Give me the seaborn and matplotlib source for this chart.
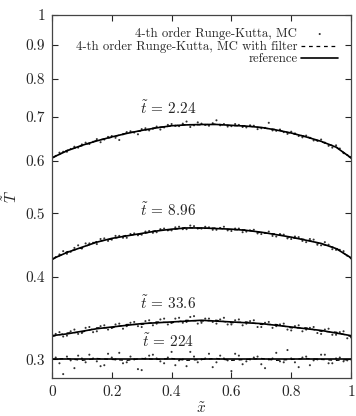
import numpy as np
import matplotlib
matplotlib.use("Agg")
import matplotlib.pyplot as plt
import pandas as pd
import seaborn as sns

# reference solution, x step 0.05
x_ref = [0.0, 0.05, 0.1, 0.15, 0.2, 0.25, 0.3, 0.35, 0.4, 0.45, 0.5,
         0.55, 0.6, 0.65, 0.7, 0.75, 0.8, 0.85, 0.9, 0.95, 1.0]
ref_224 = [0.607, 0.622, 0.634, 0.644, 0.653, 0.661, 0.668, 0.674, 0.679, 0.681, 0.682,
           0.682, 0.680, 0.678, 0.675, 0.669, 0.662, 0.653, 0.643, 0.630, 0.607]
ref_896 = [0.426, 0.436, 0.444, 0.452, 0.458, 0.462, 0.466, 0.470, 0.473, 0.475, 0.475,
           0.474, 0.473, 0.471, 0.468, 0.464, 0.460, 0.455, 0.450, 0.442, 0.428]
ref_336 = [0.326, 0.328, 0.331, 0.334, 0.336, 0.338, 0.340, 0.341, 0.342, 0.343, 0.344,
           0.343, 0.342, 0.341, 0.340, 0.338, 0.336, 0.334, 0.332, 0.329, 0.326]
ref_2240 = [0.300] * 21

# MC with filter
filt_224 = [0.606, 0.623, 0.633, 0.645, 0.652, 0.662, 0.667, 0.675, 0.678, 0.682, 0.681,
            0.683, 0.679, 0.679, 0.674, 0.670, 0.661, 0.654, 0.642, 0.631, 0.606]
filt_896 = [0.425, 0.437, 0.443, 0.453, 0.457, 0.463, 0.465, 0.471, 0.472, 0.476, 0.474,
            0.475, 0.472, 0.472, 0.467, 0.465, 0.459, 0.456, 0.449, 0.443, 0.427]
filt_336 = [0.325, 0.329, 0.330, 0.335, 0.335, 0.339, 0.339, 0.342, 0.341, 0.344, 0.343,
            0.344, 0.341, 0.342, 0.339, 0.339, 0.335, 0.335, 0.331, 0.330, 0.325]
filt_2240 = [0.300, 0.301, 0.299, 0.301, 0.300, 0.299, 0.301, 0.300, 0.301, 0.299, 0.300,
             0.301, 0.299, 0.300, 0.301, 0.299, 0.300, 0.301, 0.300, 0.299, 0.300]

# MC points
x_a = [0.0, 0.025, 0.05, 0.075, 0.1, 0.125, 0.15, 0.175, 0.2, 0.225, 0.25, 0.275, 0.3,
       0.325, 0.35, 0.375, 0.4, 0.425, 0.45, 0.475, 0.5, 0.525, 0.55, 0.575, 0.6, 0.625,
       0.65, 0.675, 0.7, 0.725, 0.75, 0.775, 0.8, 0.825, 0.85, 0.875, 0.9, 0.925, 0.95,
       0.975, 1.0]
x_b = [0.0125, 0.0375, 0.0625, 0.0875, 0.1125, 0.1375, 0.1625, 0.1875, 0.2125, 0.2375,
       0.2625, 0.2875, 0.3125, 0.3375, 0.3625, 0.3875, 0.4125, 0.4375, 0.4625, 0.4875,
       0.5125, 0.5375, 0.5625, 0.5875, 0.6125, 0.6375, 0.6625, 0.6875, 0.7125, 0.7375,
       0.7625, 0.7875, 0.8125, 0.8375, 0.8625, 0.8875, 0.9125, 0.9375, 0.9625, 0.9875]

mc_224_a = [0.605, 0.618, 0.620, 0.631, 0.636, 0.637, 0.648, 0.647, 0.655, 0.646, 0.664,
            0.663, 0.671, 0.668, 0.677, 0.675, 0.683, 0.678, 0.689, 0.680, 0.684, 0.679,
            0.692, 0.683, 0.678, 0.681, 0.675, 0.679, 0.673, 0.686, 0.667, 0.664, 0.665,
            0.655, 0.656, 0.645, 0.647, 0.633, 0.634, 0.617, 0.609]
mc_224_b = [0.611, 0.620, 0.626, 0.629, 0.640, 0.642, 0.641, 0.653, 0.651, 0.659, 0.666,
            0.659, 0.673, 0.672, 0.670, 0.681, 0.679, 0.684, 0.676, 0.687, 0.681, 0.685,
            0.680, 0.677, 0.683, 0.676, 0.680, 0.671, 0.674, 0.668, 0.670, 0.660, 0.661,
            0.652, 0.651, 0.644, 0.640, 0.629, 0.627, 0.613]

mc_896_a = [0.424, 0.433, 0.434, 0.443, 0.442, 0.450, 0.449, 0.458, 0.456, 0.462, 0.459,
            0.466, 0.464, 0.470, 0.468, 0.474, 0.471, 0.477, 0.473, 0.478, 0.474, 0.476,
            0.472, 0.477, 0.470, 0.474, 0.469, 0.472, 0.465, 0.469, 0.461, 0.464, 0.457,
            0.460, 0.452, 0.456, 0.447, 0.448, 0.440, 0.438, 0.427]
mc_896_b = [0.429, 0.438, 0.437, 0.447, 0.450, 0.451, 0.457, 0.454, 0.462, 0.459, 0.465,
            0.463, 0.469, 0.467, 0.473, 0.471, 0.476, 0.473, 0.479, 0.474, 0.477, 0.472,
            0.475, 0.471, 0.474, 0.468, 0.471, 0.466, 0.467, 0.462, 0.465, 0.458, 0.461,
            0.454, 0.457, 0.448, 0.452, 0.441, 0.440, 0.431]

mc_336_a = [0.323, 0.330, 0.326, 0.333, 0.329, 0.336, 0.331, 0.338, 0.335, 0.340, 0.337,
            0.342, 0.336, 0.344, 0.340, 0.346, 0.341, 0.347, 0.342, 0.349, 0.341, 0.346,
            0.340, 0.347, 0.339, 0.345, 0.340, 0.344, 0.336, 0.342, 0.337, 0.340, 0.332,
            0.338, 0.333, 0.336, 0.328, 0.334, 0.327, 0.331, 0.324]
mc_336_b = [0.328, 0.325, 0.331, 0.328, 0.335, 0.330, 0.337, 0.333, 0.339, 0.334, 0.341,
            0.337, 0.343, 0.338, 0.345, 0.339, 0.346, 0.341, 0.348, 0.340, 0.346, 0.342,
            0.345, 0.339, 0.344, 0.338, 0.343, 0.336, 0.341, 0.335, 0.339, 0.333, 0.337,
            0.331, 0.335, 0.329, 0.333, 0.327, 0.330, 0.323]

mc_2240_a = [0.300, 0.296, 0.303, 0.291, 0.301, 0.305, 0.298, 0.294, 0.302, 0.307, 0.297,
             0.300, 0.289, 0.304, 0.301, 0.296, 0.308, 0.299, 0.293, 0.303, 0.300, 0.306,
             0.297, 0.301, 0.288, 0.304, 0.298, 0.302, 0.295, 0.300, 0.307, 0.297, 0.301,
             0.292, 0.303, 0.299, 0.305, 0.296, 0.301, 0.298, 0.300]
mc_2240_b = [0.302, 0.285, 0.299, 0.304, 0.297, 0.301, 0.293, 0.306, 0.300, 0.296, 0.303,
             0.290, 0.301, 0.305, 0.298, 0.302, 0.294, 0.300, 0.308, 0.297, 0.301, 0.292,
             0.304, 0.299, 0.306, 0.295, 0.300, 0.303, 0.291, 0.301, 0.298, 0.310, 0.297,
             0.302, 0.294, 0.300, 0.305, 0.296, 0.302, 0.299]

labels = ["$\\tilde{t}$ = 2.24", "$\\tilde{t}$ = 8.96", "$\\tilde{t}$ = 33.6", "$\\tilde{t}$ = 224"]
label_x = [0.295, 0.295, 0.295, 0.30]
label_y = [0.722, 0.505, 0.365, 0.320]

sns.set_style("ticks")
plt.rcParams["font.family"] = ["cmr10", "DejaVu Serif"]
plt.rcParams["mathtext.fontset"] = "cm"
plt.rcParams["axes.formatter.use_mathtext"] = True
plt.rcParams["axes.unicode_minus"] = False

fig = plt.figure(figsize=(3.56, 4.16), dpi=100)
ax = fig.add_axes([0.146, 0.091, 0.840, 0.873])

mc = pd.DataFrame({
    "x": x_a * 4 + x_b * 4,
    "T": mc_224_a + mc_896_a + mc_336_a + mc_2240_a + mc_224_b + mc_896_b + mc_336_b + mc_2240_b,
})
sns.scatterplot(data=mc, x="x", y="T", ax=ax, s=2.2, color="#333333", edgecolor="none",
                label="4-th order Runge-Kutta, MC")

first = True
for r, f in [(ref_224, filt_224), (ref_896, filt_896), (ref_336, filt_336), (ref_2240, filt_2240)]:
    sns.lineplot(x=x_ref, y=f, ax=ax, color="black", lw=0.9, linestyle=(0, (3, 3)),
                 label="4-th order Runge-Kutta, MC with filter" if first else None)
    sns.lineplot(x=x_ref, y=r, ax=ax, color="black", lw=1.2,
                 label="reference" if first else None)
    first = False

for t, xx, yy in zip(labels, label_x, label_y):
    ax.text(xx, yy, t, fontsize=11, va="center", ha="left")

ax.set_yscale("log")
ax.set_xlim(0, 1)
ax.set_ylim(0.281, 1.0)
yt = [0.3, 0.4, 0.5, 0.6, 0.7, 0.8, 0.9, 1.0]
ax.set_yticks(yt)
ax.set_yticklabels(["0.3", "0.4", "0.5", "0.6", "0.7", "0.8", "0.9", "1"])
ax.yaxis.set_minor_locator(matplotlib.ticker.NullLocator())
ax.set_xticks([0, 0.2, 0.4, 0.6, 0.8, 1.0])
ax.set_xticklabels(["0", "0.2", "0.4", "0.6", "0.8", "1"])
ax.tick_params(direction="in", top=True, right=True, length=4, width=0.8, labelsize=11, pad=5)
for s in ax.spines.values():
    s.set_linewidth(0.9)
    s.set_color("#444444")

ax.set_xlabel("$\\tilde{x}$", fontsize=11, labelpad=2)
ax.set_ylabel("$\\tilde{T}$", fontsize=11, labelpad=4)

leg = ax.legend(loc="upper right", frameon=False, markerfirst=False, fontsize=9.2,
                handlelength=2.9, handletextpad=0.3, labelspacing=0.0,
                borderaxespad=0.6, markerscale=1.0)

fig.savefig("out.png", dpi=100)
